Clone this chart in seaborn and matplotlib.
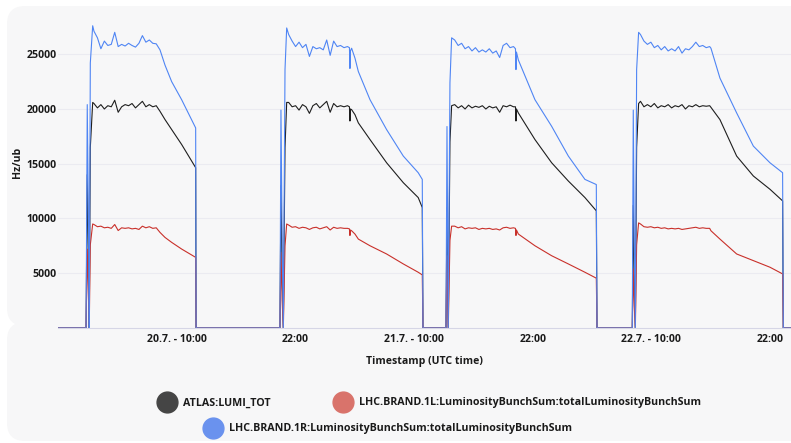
import pandas as pd
import matplotlib
matplotlib.use("Agg")
import matplotlib.pyplot as plt
from matplotlib.patches import FancyBboxPatch
from matplotlib.lines import Line2D
from matplotlib.transforms import IdentityTransform
import seaborn as sns

# -------------------------------
# Data (hours after 20.7. 00:00 UTC, values in Hz/ub)
# -------------------------------
t0 = pd.Timestamp("2018-07-20 00:00")

fill1_h = [0.80, 0.92, 1.05, 1.12, 1.23, 1.47,
           1.6, 1.95, 2.3, 2.65, 3.0, 3.35, 3.7, 4.05, 4.4, 4.75, 5.1, 5.45, 5.8, 6.15, 6.5, 6.85, 7.2, 7.55, 7.9,
           8.28, 8.79, 9.46, 10.47, 11.89, 11.93]
fill1_atlas = [0, 14000, 6000, 0, 16500, 20600,
               20500, 20100, 20400, 20000, 20300, 20200, 20800, 19700, 20200, 20400, 20300, 20500, 20100, 20400, 20700, 20200, 20400, 20200, 20300,
               19790, 19030, 18120, 16760, 14640, 0]
fill1_1l = [0, 7200, 2500, 0, 7600, 9500,
            9450, 9250, 9300, 9150, 9200, 9100, 9450, 8900, 9150, 9100, 9150, 9050, 9100, 9000, 9300, 9150, 9250, 9100, 9150,
            8730, 8270, 7820, 7210, 6450, 0]
fill1_1r = [0, 20400, 9000, 0, 24200, 27600,
            27100, 26500, 25500, 26200, 25800, 25900, 27000, 25700, 25900, 25750, 26000, 25800, 25650, 26000, 26700, 26100, 26300, 26000, 25950,
            25400, 24000, 22500, 20850, 18270, 0]

fill2_h = [20.42, 20.52, 20.64, 20.76, 20.93, 21.10,
           21.3, 21.65, 22.0, 22.35, 22.7, 23.05, 23.4, 23.75, 24.1, 24.45, 24.8, 25.15, 25.5, 25.85, 26.2, 26.55, 26.9, 27.25, 27.45, 27.5, 27.55,
           27.67, 28.01, 28.35, 29.53, 31.21, 32.9, 34.41, 34.82, 34.89]
fill2_atlas = [0, 13000, 5000, 0, 16500, 20600,
               20600, 20200, 20300, 19900, 20400, 20200, 19600, 20300, 20500, 20100, 20400, 20700, 19700, 20500, 20200, 20300, 20200, 20300, 20200, 18900, 20000,
               19940, 19480, 18730, 17210, 15090, 13270, 11910, 11000, 0]
fill2_1l = [0, 6900, 2500, 0, 7500, 9500,
            9400, 9200, 9250, 9100, 9200, 9150, 9000, 9150, 9200, 9050, 9150, 9250, 8950, 9200, 9100, 9150, 9100, 9100, 9050, 8450, 8950,
            8880, 8580, 8120, 7510, 6760, 5850, 5090, 4850, 0]
fill2_1r = [0, 19900, 8000, 0, 23600, 27400,
            26800, 26200, 25700, 26100, 25600, 25900, 24800, 25700, 25500, 25600, 25400, 26300, 24900, 26200, 25700, 25800, 25600, 25700, 25600, 23700, 25300,
            25550, 24640, 23420, 20850, 18120, 15700, 14180, 13570, 0]

fill3_h = [37.22, 37.32, 37.39, 37.45, 37.62, 37.79,
           38.1, 38.45, 38.8, 39.15, 39.5, 39.85, 40.2, 40.55, 40.9, 41.25, 41.6, 41.95, 42.3, 42.65, 43.0, 43.35, 43.7, 44.05, 44.25, 44.3, 44.35,
           44.54, 46.22, 47.91, 49.6, 51.28, 52.43, 52.5]
fill3_atlas = [0, 11000, 5000, 0, 17000, 20300,
               20400, 20100, 20300, 20000, 20350, 20100, 20250, 20150, 20300, 20000, 20250, 20100, 20200, 19700, 20300, 20200, 20350, 20200, 20200, 18900, 20000,
               19640, 17210, 15090, 13420, 11910, 10700, 0]
fill3_1l = [0, 6600, 2500, 0, 8000, 9300,
            9300, 9150, 9250, 9050, 9150, 9100, 9150, 9000, 9100, 9050, 9100, 9000, 9050, 8950, 9150, 9200, 9100, 9150, 9100, 8450, 8950,
            8580, 7510, 6600, 5850, 5090, 4550, 0]
fill3_1r = [0, 18400, 8000, 0, 22400, 26500,
            26300, 25800, 26000, 25500, 25700, 25300, 25600, 25200, 25400, 25200, 25500, 25100, 25300, 24700, 25800, 26000, 25600, 25700, 25500, 23600, 25200,
            24480, 20850, 18420, 15700, 13570, 13100, 0]

fill4_h = [56.07, 56.17, 56.27, 56.38, 56.51, 56.71,
           56.9, 57.25, 57.6, 57.95, 58.3, 58.65, 59.0, 59.35, 59.7, 60.05, 60.4, 60.75, 61.1, 61.45, 61.8, 62.15, 62.5, 62.85, 63.2, 63.55, 63.9,
           64.03, 64.94, 66.63, 68.32, 70.0, 71.28, 71.35]
fill4_atlas = [0, 11200, 5000, 0, 16500, 20500,
               20700, 20200, 20400, 20200, 20500, 20100, 20300, 20200, 20400, 20100, 20300, 20200, 20400, 20000, 20300, 20200, 20400, 20200, 20300, 20250, 20300,
               20150, 19030, 15700, 13880, 12670, 11610, 0]
fill4_1l = [0, 5400, 2000, 0, 7600, 9600,
            9500, 9250, 9200, 9250, 9150, 9200, 9100, 9150, 9050, 9100, 9050, 9100, 9000, 9050, 9100, 9150, 9200, 9100, 9150, 9100, 9100,
            8880, 8120, 6760, 6150, 5550, 4940, 0]
fill4_1r = [0, 19900, 8000, 0, 23600, 27000,
            26800, 26200, 25900, 26100, 25600, 25800, 25400, 25700, 25300, 25500, 25300, 25700, 25100, 25500, 25400, 25700, 26100, 25700, 25800, 25600, 25700,
            25550, 22820, 19640, 16610, 15090, 14180, 0]

edge_h = [-3.0, 74.0]   # zero baseline before the first and after the last fill

series_names = ["ATLAS:LUMI_TOT",
                "LHC.BRAND.1L:LuminosityBunchSum:totalLuminosityBunchSum",
                "LHC.BRAND.1R:LuminosityBunchSum:totalLuminosityBunchSum"]
line_colors = ["#1e1e1e", "#c9302a", "#4f85f4"]
legend_colors = ["#454545", "#d9736b", "#6a92ee"]

tick_hours = [10, 22, 34, 46, 58, 70]
tick_labels = ["20.7. - 10:00", "22:00", "21.7. - 10:00", "22:00", "22.7. - 10:00", "22:00"]
y_ticks = [5000, 10000, 15000, 20000, 25000]

# -------------------------------
# Build long table
# -------------------------------
all_h = [edge_h[0]] + fill1_h + fill2_h + fill3_h + fill4_h + [edge_h[1]]
per_series = [
    [0] + fill1_atlas + fill2_atlas + fill3_atlas + fill4_atlas + [0],
    [0] + fill1_1l + fill2_1l + fill3_1l + fill4_1l + [0],
    [0] + fill1_1r + fill2_1r + fill3_1r + fill4_1r + [0],
]
frames = []
for name, vals in zip(series_names, per_series):
    frames.append(pd.DataFrame({
        "time": t0 + pd.to_timedelta(all_h, unit="h"),
        "value": vals,
        "series": name,
    }))
df = pd.concat(frames, ignore_index=True)

# -------------------------------
# Plot
# -------------------------------
sns.set_theme(style="white")
plt.rcParams["font.family"] = ["Open Sans", "DejaVu Sans"]

W, H = 791, 443
fig = plt.figure(figsize=(W / 100, H / 100), dpi=100)
fig.patch.set_facecolor("white")

panel_col = "#f7f7f8"
fig.patches.append(FancyBboxPatch((7, H - 326), 800, 320, boxstyle="round,pad=0,rounding_size=18",
                                  transform=IdentityTransform(), facecolor=panel_col, edgecolor="none", zorder=-10))
fig.patches.append(FancyBboxPatch((7, 2), 800, H - 326 - 2 + 4, boxstyle="round,pad=0,rounding_size=18",
                                  transform=IdentityTransform(), facecolor=panel_col, edgecolor="none", zorder=-10))

ax_left, ax_right, ax_top, ax_bottom = 58, 791, 17, 328
ax = fig.add_axes([ax_left / W, 1 - ax_bottom / H, (ax_right - ax_left) / W, (ax_bottom - ax_top) / H])
ax.set_facecolor("none")

sns.lineplot(data=df, x="time", y="value", hue="series", hue_order=series_names,
             palette=line_colors, estimator=None, sort=False, linewidth=0.8,
             legend=False, ax=ax)

ax.set_xlim(t0 + pd.Timedelta(hours=-2.04), t0 + pd.Timedelta(hours=72.13))
ax.set_ylim(0, 28400)
ax.set_xticks([t0 + pd.Timedelta(hours=h) for h in tick_hours])
ax.set_xticklabels(tick_labels)
ax.set_yticks(y_ticks)
ax.set_yticklabels([str(v) for v in y_ticks])
ax.tick_params(axis="both", length=0, labelsize=7.6, colors="#1a1a1a")
ax.tick_params(axis="x", pad=4)
ax.tick_params(axis="y", pad=1)
for lab in ax.get_xticklabels() + ax.get_yticklabels():
    lab.set_fontweight("bold")

ax.grid(axis="y", color="#ebebf1", linewidth=0.8)
ax.grid(axis="x", visible=False)
for side in ["top", "right", "left"]:
    ax.spines[side].set_visible(False)
ax.spines["bottom"].set_color("#d6d6e6")
ax.spines["bottom"].set_linewidth(0.8)

ax.set_xlabel("Timestamp (UTC time)", fontsize=7.6, fontweight="bold", color="#1a1a1a")
ax.xaxis.set_label_coords(0.5, -(356 - ax_bottom) / (ax_bottom - ax_top))
ax.set_ylabel("Hz/ub", fontsize=7.6, fontweight="bold", color="#1a1a1a")
ax.yaxis.set_label_coords(-(ax_left - 23) / (ax_right - ax_left), (ax_bottom - 162) / (ax_bottom - ax_top))

# -------------------------------
# Legend (two centred rows)
# -------------------------------
def make_handle(c):
    return Line2D([], [], linestyle="none", marker="o", markersize=15,
                  markerfacecolor=c, markeredgecolor=c)

leg_kw = dict(frameon=False, loc="center left", borderpad=0, borderaxespad=0,
              handlelength=2.0, handletextpad=0.55, columnspacing=5.7,
              prop={"size": 7.7, "weight": "bold"})
leg1 = fig.legend([make_handle(legend_colors[0]), make_handle(legend_colors[1])], series_names[:2],
                  ncol=2, bbox_to_anchor=(156 / W, 1 - 403 / H), **leg_kw)
leg2 = fig.legend([make_handle(legend_colors[2])], series_names[2:],
                  ncol=1, bbox_to_anchor=(202 / W, 1 - 429 / H), **leg_kw)
for leg in (leg1, leg2):
    for t in leg.get_texts():
        t.set_color("#1a1a1a")

fig.savefig("out.png", dpi=100)
